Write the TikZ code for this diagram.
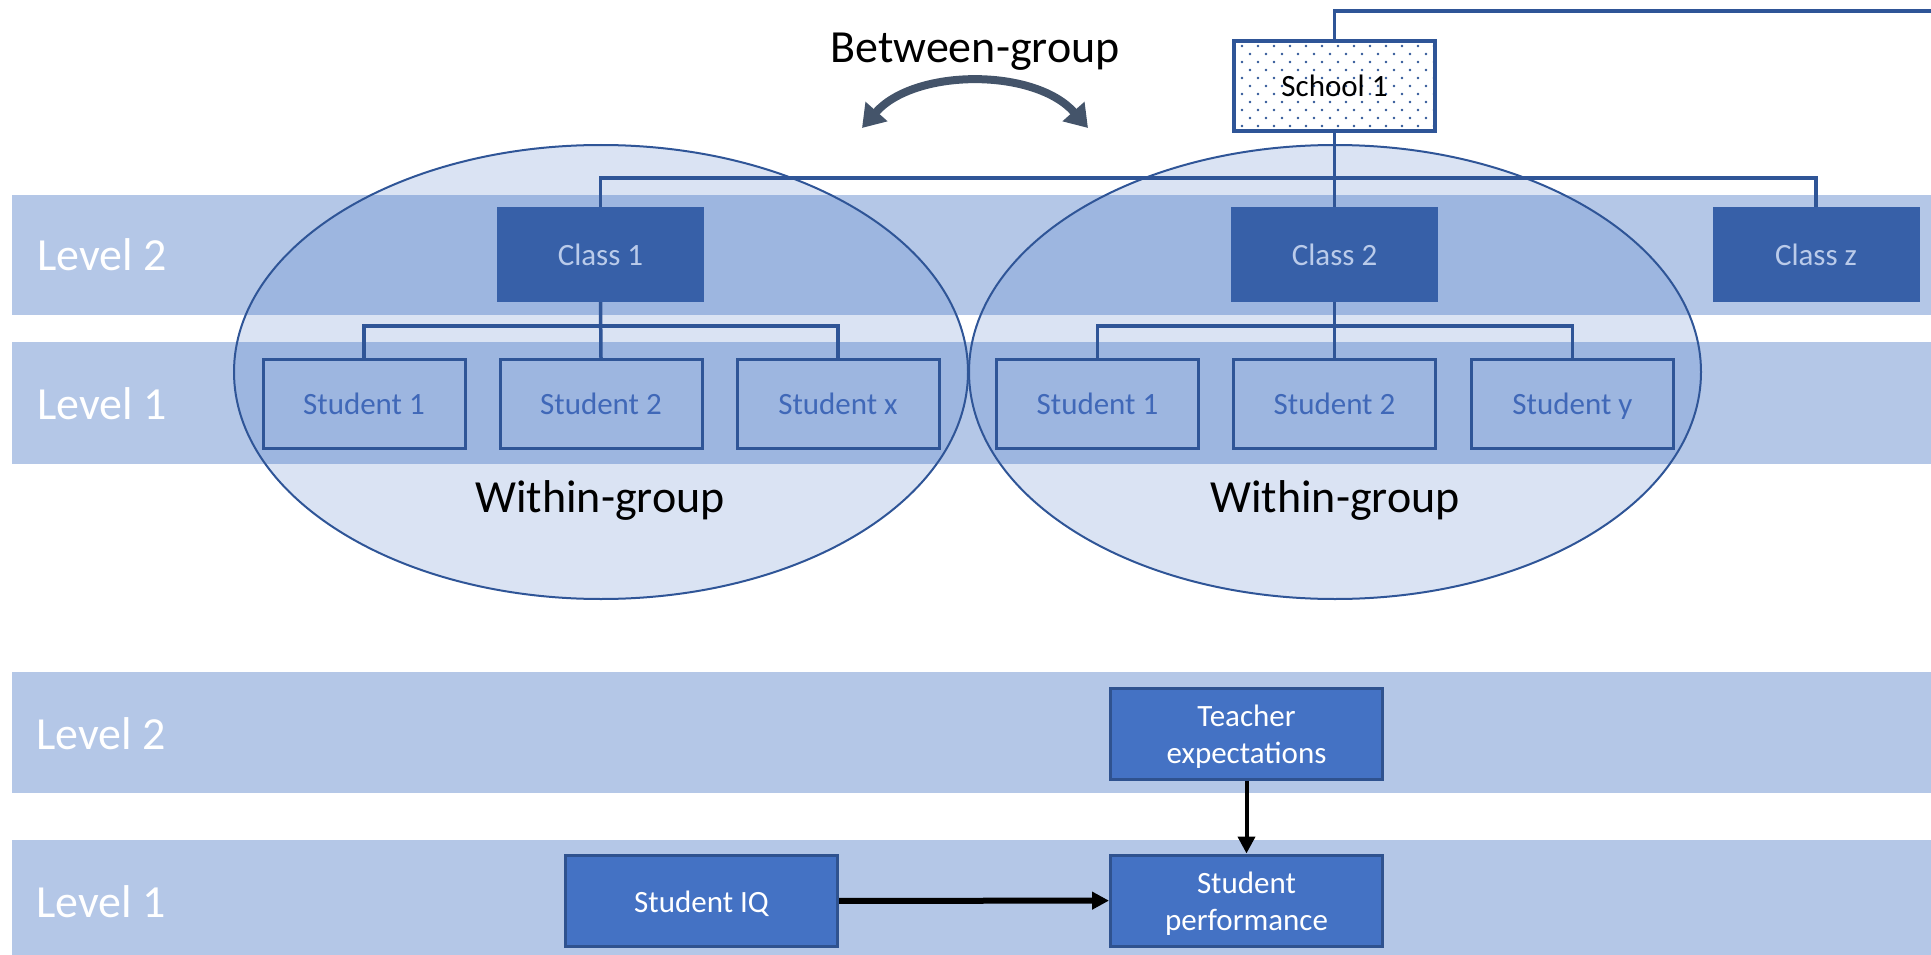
\documentclass[tikz,border=0pt]{standalone}
\usepackage{fontspec}
\setmainfont{Carlito}
\usetikzlibrary{arrows.meta}

\definecolor{bandblue}{HTML}{B4C7E7}
\definecolor{accentblue}{HTML}{4472C4}
\definecolor{lineblue}{HTML}{2F5597}
\definecolor{classblue}{HTML}{3760A8}
\definecolor{classtext}{HTML}{BACBEA}
\definecolor{studenttext}{HTML}{4068B8}
\definecolor{varborder}{HTML}{2F528F}
\definecolor{slate}{HTML}{44546A}

\newcommand{\labelsize}{\fontsize{46}{50}\selectfont}
\newcommand{\boxsize}{\fontsize{31}{37}\selectfont}

\begin{document}
\begin{tikzpicture}[
    x=1pt, y=-1pt,
    level band/.style={fill=bandblue},
    level font/.style={font=\labelsize, text=white, anchor=base west},
    group font/.style={font=\labelsize, text=black, anchor=base},
    group ellipse/.style={fill=accentblue, fill opacity=0.2, draw=lineblue, draw opacity=1, line width=2pt},
    class box/.style={fill=classblue, text=classtext, font=\boxsize, minimum width=207pt, minimum height=95pt, text height=21pt, text depth=0pt, inner sep=0pt},
    student box/.style={draw=lineblue, line width=3pt, text=studenttext, font=\boxsize, minimum width=202pt, minimum height=89pt, text height=21pt, text depth=0pt, inner sep=0pt},
    school box/.style={draw=lineblue, fill=white, line width=3.5pt, font=\boxsize, minimum width=201pt, minimum height=90pt, text height=21pt, text depth=0pt, inner sep=0pt,
        path picture={
            \foreach \r in {0,...,11}
                \foreach \c in {0,...,12}
                    \fill[lineblue] ([xshift={(16*\c+8*mod(\r,2)+8)*1pt}, yshift={-(8*\r+5)*1pt}]path picture bounding box.north west) circle (1.4pt);
        }},
    var box/.style={fill=accentblue, draw=varborder, line width=3pt, text=white, font=\boxsize, align=center, minimum width=272pt, minimum height=91pt, inner sep=0pt},
    var text/.style={font=\boxsize, text=white, align=center, yshift=-3pt},
    tree line/.style={draw=lineblue, line width=3.5pt},
    effect/.style={draw=black, -{Triangle[width=17pt,length=17pt]}}
]

\useasboundingbox (0,0) rectangle (1931,955);

% BANDS
\fill[level band] (12,195) rectangle (1931,315);
\fill[level band] (12,342) rectangle (1931,464);
\fill[level band] (12,672) rectangle (1931,793);
\fill[level band] (12,840) rectangle (1931,955);

% GROUPS
\draw[group ellipse] (601,372) ellipse [x radius=367pt, y radius=227pt];
\draw[group ellipse] (1335,372) ellipse [x radius=366pt, y radius=227pt];

% HIERARCHY
\node[school box] (school) at (1334.5,86) {School 1};
\coordinate (schoolout) at (1931,11);

\node[class box] (class1) at (600.5,254.5) {Class 1};
\node[class box] (class2) at (1334.5,254.5) {Class 2};
\node[class box] (classz) at (1816,254.5) {Class z};

\node[student box] (s1a) at (364,404) {Student 1};
\node[student box] (s1b) at (601,404) {Student 2};
\node[student box] (s1x) at (838,404) {Student x};
\node[student box] (s2a) at (1097.5,404) {Student 1};
\node[student box] (s2b) at (1334.5,404) {Student 2};
\node[student box] (s2y) at (1572.5,404) {Student y};

\draw[tree line] (school.north) |- (schoolout);
\draw[tree line] (school.south) -- (class2.north);
\draw[tree line] (class1.north) -- ++(0,-29) -| (classz.north);

\draw[tree line] (class1.south) -- (s1b.north);
\draw[tree line] (class1.south) -- ++(0,24) -| (s1a.north);
\draw[tree line] (class1.south) -- ++(0,24) -| (s1x.north);
\draw[tree line] (class2.south) -- (s2b.north);
\draw[tree line] (class2.south) -- ++(0,24) -| (s2a.north);
\draw[tree line] (class2.south) -- ++(0,24) -| (s2y.north);

% BETWEEN
\coordinate (bgl) at (862,128);
\coordinate (bgr) at (1088,128);
\draw[slate, line width=8pt, {Triangle[width=28pt,length=22pt]}-{Triangle[width=28pt,length=22pt]}]
    (bgl) .. controls (915,68) and (1035,68) .. (bgr);

% MODEL
\node[var box] (teacher) at (1246.5,733.5) {};
\node[var box] (iq) at (701.5,901) {};
\node[var box] (perf) at (1246.5,900.5) {};
\node[var text] (teachertext) at (teacher) {Teacher\\expectations};
\node[var text] (iqtext) at (iq) {Student IQ};
\node[var text] (perftext) at (perf) {Student\\performance};

\draw[effect, line width=4pt] (teacher) -- (perf);
\draw[effect, line width=6pt] (iq) -- (perf);

% LABELS
\node[level font] (lvtwo) at (34,270) {Level 2};
\node[level font] (lvone) at (34,419) {Level 1};
\node[level font] (lvtwob) at (33,749) {Level 2};
\node[level font] (lvoneb) at (33,917) {Level 1};

\node[group font] (withina) at (600,512) {Within-group};
\node[group font] (withinb) at (1335,512) {Within-group};
\node[group font] (between) at (975,63) {Between-group};

\end{tikzpicture}
\end{document}
